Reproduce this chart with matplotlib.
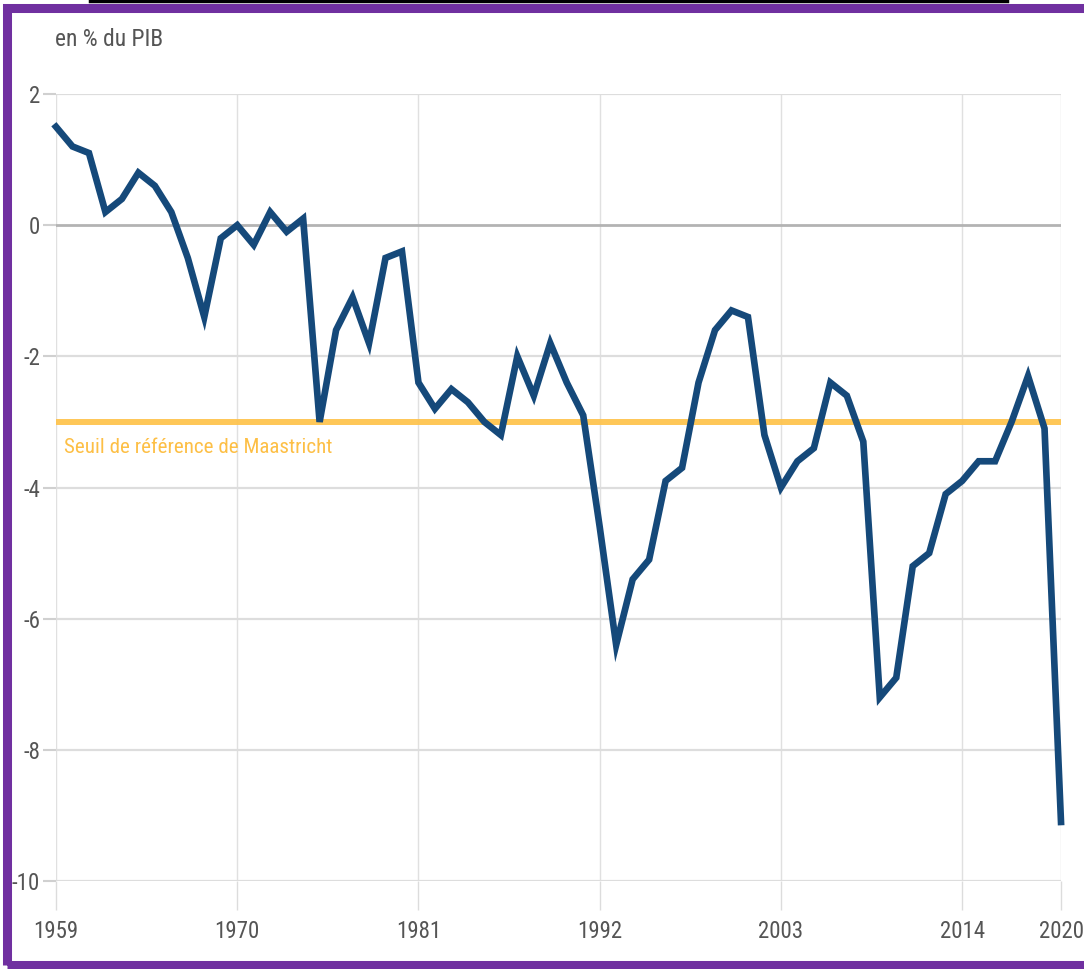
import matplotlib
matplotlib.use("Agg")
import matplotlib.pyplot as plt
from matplotlib import font_manager
from matplotlib.patches import Rectangle
from matplotlib.lines import Line2D

years = list(range(1959, 2021))
deficit = [1.5, 1.2, 1.1, 0.2, 0.4, 0.8, 0.6, 0.2, -0.5, -1.4,
           -0.2, 0.0, -0.3, 0.2, -0.1, 0.1, -3.0, -1.6, -1.1, -1.8,
           -0.5, -0.4, -2.4, -2.8, -2.5, -2.7, -3.0, -3.2, -2.0, -2.6,
           -1.8, -2.4, -2.9, -4.6, -6.4, -5.4, -5.1, -3.9, -3.7, -2.4,
           -1.6, -1.3, -1.4, -3.2, -4.0, -3.6, -3.4, -2.4, -2.6, -3.3,
           -7.2, -6.9, -5.2, -5.0, -4.1, -3.9, -3.6, -3.6, -3.0, -2.3,
           -3.1, -9.1]
x_ticks = [1959, 1970, 1981, 1992, 2003, 2014, 2020]
y_ticks = [-10, -8, -6, -4, -2, 0, 2]
threshold = -3.0
threshold_label = "Seuil de référence de Maastricht"
unit_label = "en % du PIB"

available = {f.name for f in font_manager.fontManager.ttflist}
stretch = 'normal'
if "Liberation Sans Narrow" in available:
    family = ["Liberation Sans Narrow", "DejaVu Sans"]
elif "Roboto Condensed" in available:
    family = ["Roboto Condensed", "DejaVu Sans"]
elif any(f.name == "DejaVu Sans" and f.stretch == 'condensed' for f in font_manager.fontManager.ttflist):
    family = ["DejaVu Sans"]
    stretch = 'condensed'
else:
    family = ["Liberation Sans", "DejaVu Sans"]
plt.rcParams['font.family'] = family
plt.rcParams['font.stretch'] = stretch

W, H = 1084, 969
fig = plt.figure(figsize=(W / 100, H / 100), dpi=100)
fig.patch.set_facecolor("white")
renderer = fig.canvas.get_renderer()


def size_for(text, target_px, base=20):
    t = fig.text(0, 0, text, fontsize=base)
    w = t.get_window_extent(renderer=renderer).width
    t.remove()
    return base * target_px / w


tick_size = size_for("1959", 45)
title_size = size_for(unit_label, 108)
label_size = size_for(threshold_label, 268)

ax = fig.add_axes([56 / W, 1 - 881 / H, (1061 - 56) / W, (881 - 94) / H])
ax.set_xlim(1959, 2020)
ax.set_ylim(-10, 2)
for s in ax.spines.values():
    s.set_visible(False)

ax.set_xticks(x_ticks)
ax.set_xticklabels([str(t) for t in x_ticks])
ax.set_yticks(y_ticks)
ax.set_yticklabels([str(t) for t in y_ticks])
ax.tick_params(axis='x', length=29 * 0.72, width=1.0, color='#dcdcdc', pad=7,
               labelsize=tick_size, labelcolor='#555555')
ax.tick_params(axis='y', length=13 * 0.72, width=1.5, color='#d0d0d0', pad=2,
               labelsize=tick_size, labelcolor='#555555')

for t in x_ticks:
    ax.axvline(t, color='#e0e0e0', lw=1.0, zorder=0)
for t in y_ticks:
    if t == 0:
        ax.axhline(t, color='#b3b3b3', lw=2.0, zorder=1)
    else:
        ax.axhline(t, color='#dddddd', lw=1.6, zorder=0)

ax.axhline(threshold, color='#fec44f', lw=4.3, alpha=0.95, zorder=2)
ax.text(1959.5, threshold - 0.24, threshold_label, color='#fdbf45', fontsize=label_size,
        ha='left', va='top', zorder=3)

ax.plot(years, deficit, color='#15497a', lw=4.8, solid_joinstyle='miter',
        zorder=4, clip_on=False)

fig.text(55 / W, 1 - 39 / H, unit_label, color='#555555', fontsize=title_size,
         ha='left', va='center')

# purple frame
fig.patches.append(Rectangle((7 / W, 4 / H), 1.1, 1 - 12 / H, transform=fig.transFigure,
                             fill=False, edgecolor='#7030a0', lw=6.5, zorder=10))
# top black line
fig.lines.append(Line2D([90 / W, 1007 / W], [1 - 1 / H, 1 - 1 / H], transform=fig.transFigure,
                        color='black', lw=2.5))

fig.savefig("out.png", dpi=100, facecolor='white')
